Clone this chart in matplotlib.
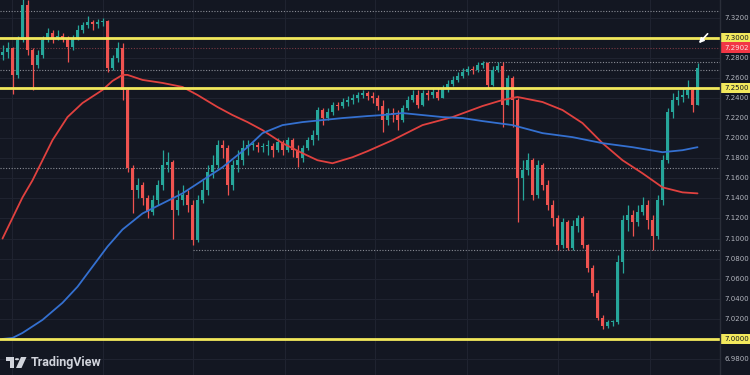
import matplotlib
matplotlib.use('Agg')
import matplotlib.pyplot as plt
import matplotlib.transforms as mtransforms
from matplotlib.patches import Rectangle, Polygon, Circle
import numpy as np

# ---------------- data ----------------
first_open = 7.283
closes = [7.286, 7.290, 7.263, 7.298, 7.333, 7.288, 7.273, 7.283, 7.298, 7.305,
          7.300, 7.302, 7.300, 7.291, 7.300, 7.308, 7.313, 7.316, 7.314, 7.316,
          7.317, 7.270, 7.280, 7.290, 7.248, 7.170, 7.148, 7.153, 7.140, 7.126,
          7.138, 7.153, 7.173, 7.176, 7.128, 7.138, 7.143, 7.133, 7.099, 7.138,
          7.148, 7.166, 7.173, 7.193, 7.190, 7.153, 7.173, 7.178, 7.190, 7.193,
          7.193, 7.191, 7.192, 7.192, 7.188, 7.196, 7.188, 7.198, 7.188, 7.180,
          7.190, 7.198, 7.203, 7.228, 7.220, 7.226, 7.233, 7.232, 7.236, 7.238,
          7.240, 7.243, 7.245, 7.242, 7.240, 7.232, 7.218, 7.225, 7.223, 7.218,
          7.230, 7.238, 7.243, 7.233, 7.245, 7.243, 7.246, 7.240, 7.250, 7.254,
          7.258, 7.262, 7.266, 7.269, 7.268, 7.273, 7.275, 7.253, 7.268, 7.272,
          7.233, 7.260, 7.238, 7.160, 7.168, 7.178, 7.143, 7.173, 7.153, 7.133,
          7.120, 7.094, 7.116, 7.091, 7.113, 7.120, 7.094, 7.071, 7.046, 7.021,
          7.013, 7.017, 7.017, 7.077, 7.118, 7.123, 7.116, 7.126, 7.133, 7.118,
          7.103, 7.138, 7.178, 7.226, 7.238, 7.241, 7.243, 7.248, 7.233, 7.270]
highs = [7.293, 7.296, 7.291, 7.302, 7.348, 7.338, 7.290, 7.288, 7.302, 7.310,
         7.308, 7.308, 7.305, 7.302, 7.303, 7.313, 7.316, 7.322, 7.318, 7.319,
         7.320, 7.318, 7.283, 7.296, 7.295, 7.250, 7.173, 7.160, 7.156, 7.143,
         7.143, 7.158, 7.188, 7.186, 7.178, 7.148, 7.153, 7.148, 7.138, 7.143,
         7.158, 7.173, 7.183, 7.198, 7.198, 7.193, 7.178, 7.188, 7.198, 7.198,
         7.196, 7.196, 7.195, 7.198, 7.195, 7.200, 7.198, 7.201, 7.200, 7.193,
         7.193, 7.201, 7.208, 7.231, 7.230, 7.230, 7.236, 7.236, 7.240, 7.242,
         7.244, 7.246, 7.248, 7.247, 7.246, 7.243, 7.238, 7.230, 7.230, 7.228,
         7.233, 7.242, 7.248, 7.248, 7.248, 7.248, 7.250, 7.250, 7.253, 7.258,
         7.262, 7.266, 7.270, 7.272, 7.272, 7.276, 7.277, 7.276, 7.272, 7.276,
         7.276, 7.263, 7.262, 7.240, 7.178, 7.185, 7.180, 7.178, 7.175, 7.158,
         7.138, 7.123, 7.120, 7.118, 7.118, 7.123, 7.122, 7.095, 7.074, 7.049,
         7.024, 7.019, 7.019, 7.084, 7.123, 7.133, 7.128, 7.133, 7.141, 7.138,
         7.123, 7.143, 7.183, 7.230, 7.245, 7.248, 7.250, 7.258, 7.250, 7.275]
lows = [7.278, 7.280, 7.244, 7.260, 7.296, 7.283, 7.248, 7.270, 7.280, 7.296,
        7.295, 7.298, 7.296, 7.276, 7.288, 7.298, 7.305, 7.310, 7.308, 7.310,
        7.312, 7.266, 7.268, 7.276, 7.238, 7.166, 7.125, 7.140, 7.133, 7.120,
        7.123, 7.133, 7.148, 7.166, 7.100, 7.123, 7.133, 7.126, 7.094, 7.097,
        7.135, 7.143, 7.160, 7.170, 7.180, 7.143, 7.148, 7.166, 7.173, 7.183,
        7.188, 7.186, 7.186, 7.183, 7.181, 7.186, 7.183, 7.186, 7.181, 7.171,
        7.176, 7.188, 7.193, 7.198, 7.213, 7.218, 7.223, 7.228, 7.230, 7.232,
        7.234, 7.236, 7.240, 7.238, 7.235, 7.228, 7.206, 7.213, 7.216, 7.208,
        7.216, 7.228, 7.236, 7.230, 7.232, 7.238, 7.240, 7.238, 7.240, 7.246,
        7.252, 7.256, 7.260, 7.263, 7.264, 7.266, 7.270, 7.250, 7.252, 7.266,
        7.211, 7.233, 7.211, 7.116, 7.138, 7.163, 7.138, 7.140, 7.148, 7.128,
        7.113, 7.089, 7.091, 7.089, 7.089, 7.107, 7.091, 7.067, 7.043, 7.019,
        7.010, 7.011, 7.013, 7.015, 7.066, 7.108, 7.103, 7.113, 7.123, 7.110,
        7.089, 7.100, 7.133, 7.175, 7.220, 7.233, 7.236, 7.240, 7.226, 7.258]

red_ma_idx = [0, 4, 6, 10, 13, 16, 20, 22, 24, 25, 28, 32, 36, 39, 43, 46, 49, 52, 56, 60,
              63, 66, 70, 73, 78, 84, 90, 96, 100, 103, 108, 112, 116, 120, 124, 128, 132, 136, 139]
red_ma = [7.100, 7.141, 7.158, 7.198, 7.221, 7.235, 7.248, 7.257, 7.263, 7.263,
          7.258, 7.255, 7.251, 7.243, 7.231, 7.223, 7.216, 7.208, 7.195, 7.185,
          7.178, 7.175, 7.181, 7.187, 7.198, 7.213, 7.221, 7.232, 7.238, 7.241,
          7.236, 7.228, 7.215, 7.195, 7.178, 7.165, 7.151, 7.146, 7.145]
blue_ma_idx = [0, 2, 4, 8, 12, 15, 18, 21, 24, 28, 32, 36, 40, 44, 49, 52, 56, 60, 64, 68,
               73, 76, 80, 84, 88, 92, 96, 102, 108, 114, 120, 126, 132, 136, 139]
blue_ma = [7.000, 7.001, 7.006, 7.019, 7.036, 7.052, 7.072, 7.092, 7.109, 7.125,
           7.135, 7.145, 7.158, 7.171, 7.191, 7.205, 7.213, 7.216, 7.218, 7.220,
           7.222, 7.223, 7.225, 7.223, 7.221, 7.220, 7.217, 7.213, 7.205, 7.201,
           7.195, 7.191, 7.186, 7.188, 7.191]

yellow_levels = [7.30, 7.25, 7.00]
dotted_levels = [7.327, 7.268, 7.170]
partial_dotted_levels = [7.276, 7.089]
partial_dotted_start = [96, 38]
last_price = 7.2902
tick_values = [6.98, 7.00, 7.02, 7.04, 7.06, 7.08, 7.10, 7.12, 7.14, 7.16, 7.18,
               7.20, 7.22, 7.24, 7.26, 7.28, 7.30, 7.32, 7.34]
vgrid_idx = [1.9, 20.1, 38.1, 56.5, 74.5, 92.9, 111.1, 129.5]

# ---------------- style ----------------
BG = '#131722'
GREEN = '#26a69a'
RED = '#ef5350'
YELLOW = '#f2e85c'
GRID = '#1f2330'
AXTXT = '#b2b5be'

W, H = 750, 375
fig = plt.figure(figsize=(7.5, 3.75), dpi=100, facecolor=BG)
ax = fig.add_axes([0, 0, 720 / W, 1])
ax.set_facecolor(BG)
ymin, ymax = 6.9641, 7.3376
ax.set_xlim(-0.5, 143.5)
ax.set_ylim(ymin, ymax)
ax.set_xticks([])
ax.set_yticks([])
for s in ax.spines.values():
    s.set_visible(False)

# grid
for t in tick_values:
    ax.axhline(t, color=GRID, lw=0.8, zorder=0)
for gx in vgrid_idx:
    ax.axvline(gx, color=GRID, lw=0.8, zorder=0)

# dotted reference lines
for lv in dotted_levels:
    ax.axhline(lv, color='#8a8d96', lw=0.8, ls=(0, (1, 1.5)), zorder=1)
for lv, st in zip(partial_dotted_levels, partial_dotted_start):
    ax.hlines(lv, st, 143.5, color='#8a8d96', lw=0.8, ls=(0, (1, 1.5)), zorder=1)
ax.axhline(last_price, color='#7a3a44', lw=0.8, ls=(0, (1, 1.5)), zorder=1)

# candles
opens = [first_open] + closes[:-1]
n = len(closes)
xs = np.arange(n)
cols = [GREEN if c >= o else RED for o, c in zip(opens, closes)]
hi = [max(h, o, c) for h, o, c in zip(highs, opens, closes)]
lo = [min(l, o, c) for l, o, c in zip(lows, opens, closes)]
ax.vlines(xs, lo, hi, colors=cols, lw=0.9, zorder=3)
bottoms = [min(o, c) for o, c in zip(opens, closes)]
heights = [max(abs(c - o), 0.0008) for o, c in zip(opens, closes)]
ax.bar(xs, heights, bottom=bottoms, width=0.66, color=cols, zorder=4, linewidth=0)

# moving averages
ax.plot(red_ma_idx, red_ma, color='#e0413f', lw=1.3, zorder=5, solid_capstyle='round')
ax.plot(blue_ma_idx, blue_ma, color='#3470d0', lw=1.3, zorder=5,
        solid_capstyle='round')

# yellow levels
for lv in yellow_levels:
    ax.axhline(lv, color=YELLOW, lw=2.0, zorder=6)

# arrow annotation
ax.annotate('', xy=(138.9, 7.2925), xytext=(141.4, 7.306),
            arrowprops=dict(arrowstyle='-|>', color='white', lw=1.2, mutation_scale=7),
            zorder=8)

# price axis
blend = mtransforms.blended_transform_factory(fig.transFigure, ax.transData)
fig.add_artist(plt.Line2D([720 / W, 720 / W], [0, 1], color='#2a2e39', lw=1,
                          transform=fig.transFigure))
special = {7.30: YELLOW, 7.25: YELLOW, 7.00: YELLOW}
for t in tick_values:
    if round(t, 2) in special:
        continue
    fig.text(736.5 / W, t, f'{t:.4f}', transform=blend, ha='center', va='center',
             fontsize=5, color=AXTXT, family='DejaVu Sans')
for lv in yellow_levels:
    r = Rectangle((720.5 / W, lv - 0.0052), 29.5 / W, 0.0104, transform=blend,
                  facecolor=YELLOW, edgecolor='none')
    fig.add_artist(r)
    fig.text(736.5 / W, lv, f'{lv:.4f}', transform=blend, ha='center', va='center',
             fontsize=5, color='#131722', family='DejaVu Sans')
r = Rectangle((720.5 / W, last_price - 0.0052), 29.5 / W, 0.0104, transform=blend,
              facecolor='#f23645', edgecolor='none')
fig.add_artist(r)
fig.text(736.5 / W, last_price, f'{last_price:.4f}', transform=blend, ha='center',
         va='center', fontsize=5, color='#fbe0e2', family='DejaVu Sans')


# TradingView logo
def px(x, y):
    return (x / W, 1 - y / H)

LOGO = '#d1d4dc'
t_shape = Polygon([px(6, 357), px(14, 357), px(14, 368), px(10, 368), px(10, 361), px(6, 361)],
                  closed=True, transform=fig.transFigure, facecolor=LOGO, edgecolor='none')
fig.add_artist(t_shape)
dot = Circle(px(17, 359.2), 2.1 / W, transform=fig.transFigure, facecolor=LOGO,
             edgecolor='none')
fig.add_artist(dot)
slash = Polygon([px(21, 357), px(26.5, 357), px(21.5, 368), px(16, 368)], closed=True,
                transform=fig.transFigure, facecolor=LOGO, edgecolor='none')
fig.add_artist(slash)
fig.text(31 / W, 1 - 362.5 / H, 'TradingView', ha='left', va='center', fontsize=9,
         fontweight='bold', family='Roboto', color=LOGO)

fig.savefig('out.png', dpi=100, facecolor=BG)
